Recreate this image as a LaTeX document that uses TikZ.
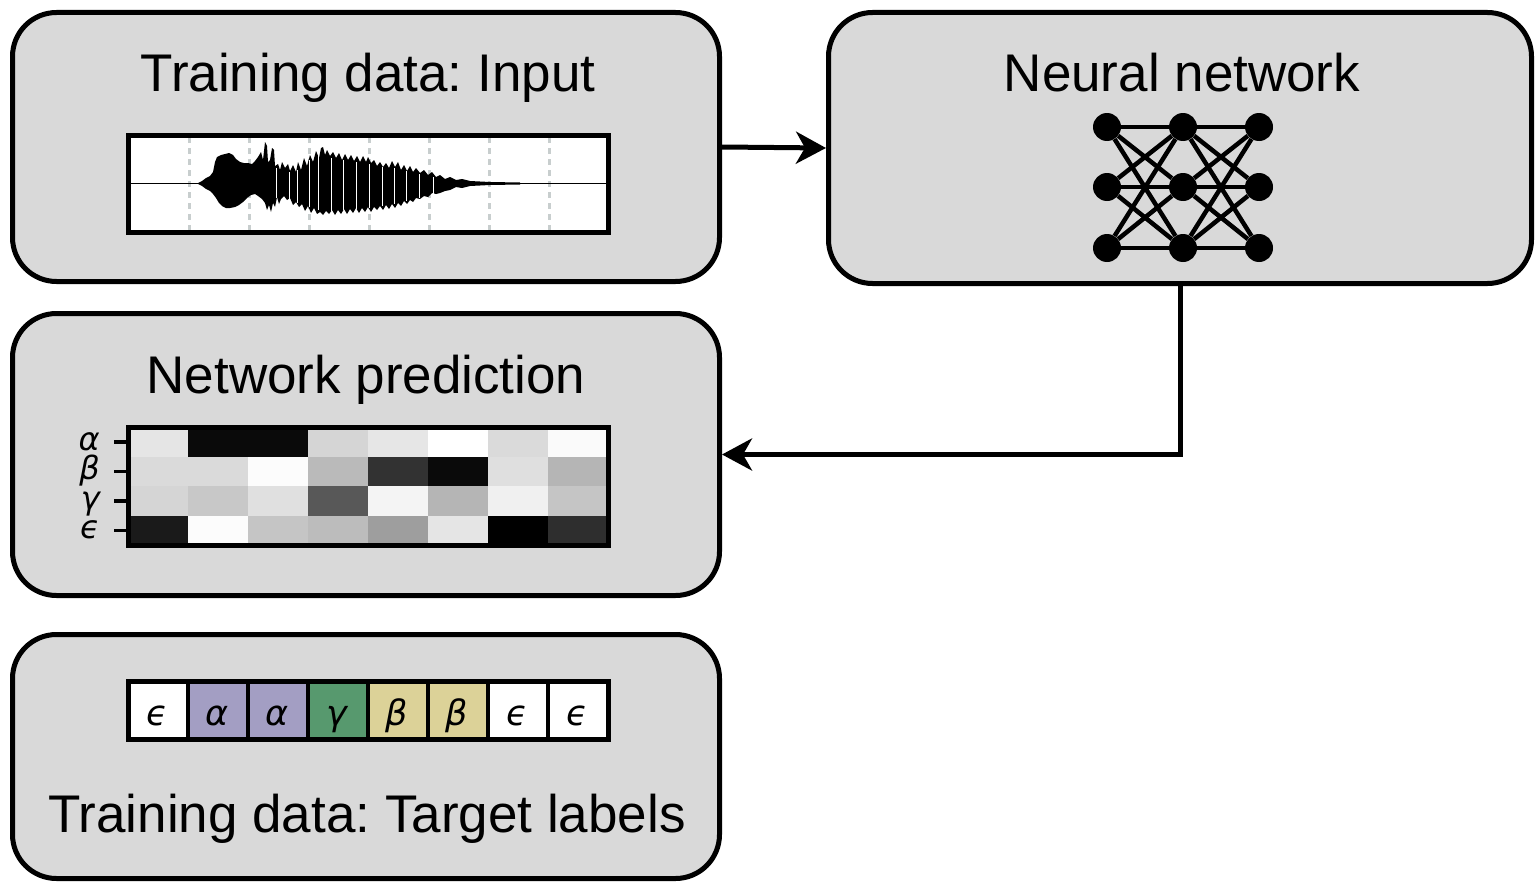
\documentclass[tikz,border=0pt]{standalone}
\usepackage{fontspec}
\setmainfont{Liberation Sans}
\newfontfamily\greekfont{DejaVu Sans}
\usetikzlibrary{arrows.meta}
\frenchspacing
\definecolor{panelgray}{RGB}{217,217,217}
\definecolor{gridgray}{RGB}{200,206,206}
\definecolor{labpurple}{RGB}{163,158,195}
\definecolor{labgreen}{RGB}{87,153,110}
\definecolor{labbeige}{RGB}{220,210,152}

\begin{document}
\begin{tikzpicture}[x=1pt,y=-1pt,
  panel/.style={draw, line width=5pt, fill=panelgray, rounded corners=44pt, rectangle, inner sep=0pt},
  title/.style={anchor=base, inner sep=0pt, font=\fontsize{53}{60}\selectfont},
  frame/.style={draw, line width=5pt, rectangle, inner sep=0pt},
  flow/.style={line width=5pt, -{Stealth[length=30pt,width=32pt,inset=9pt]}},
  neuron/.style={circle, fill=black, minimum size=28pt, inner sep=0pt},
  synapse/.style={line width=4.5pt},
  greek/.style={inner sep=0pt, font=\greekfont\itshape\fontsize{35}{35}\selectfont},
  ticklabel/.style={inner sep=0pt, text height=15pt, text depth=3pt,
                    font=\greekfont\itshape\fontsize{32}{32}\selectfont},
  gridline/.style={gridgray, line width=3pt, dash pattern=on 6pt off 5pt},
]
\useasboundingbox (0,0) rectangle (1537,883);

% ---- panels ----
\node[panel, minimum width=707pt, minimum height=269pt] (input) at (366,147) {};
\node[panel, minimum width=703pt, minimum height=271pt] (network) at (1180,148) {};
\node[panel, minimum width=707pt, minimum height=282pt] (prediction) at (366,454.5) {};
\node[panel, minimum width=707pt, minimum height=244pt] (target) at (366,756.5) {};

\node[title] (tin) at (368,92) {Training data: Input};
\node[title] (tnet) at (1182,92) {Neural network};
\node[title] (tpred) at (366,393) {Network prediction};
\node[title] (ttar) at (367,832) {Training data: Target labels};

% ---- connectors ----
\draw[flow] (input.east) -- (network.west);
\draw[flow] (network.south) |- (prediction.east);

% ---- waveform ----
\fill[white] (128,135) rectangle (608,232);
\foreach \gx in {189,249,309,369,429,489,549}
  \draw[gridline] (\gx,137) -- (\gx,230);
\draw[line width=1.5pt] (130,183.5) -- (606,183.5);
\fill[black]
  (198,183) -- (202,181) -- (206,178) -- (210,176) -- (213,172) -- (215,162) -- (217,157)
  -- (221,155) -- (225,154) -- (229,153) -- (233,155) -- (236,159) -- (240,162) -- (244,163)
  -- (248,163) -- (252,164) -- (255,161) -- (258,157) -- (261,152) -- (263,160) -- (265,142)
  -- (267,146) -- (268,162) -- (270,160) -- (272,148) -- (274,150) -- (275,166) -- (278,164)
  -- (280,170) -- (282,162) -- (285,168) -- (288,164) -- (290,171) -- (293,165) -- (296,172)
  -- (298,162) -- (301,170) -- (304,158) -- (307,166) -- (310,155) -- (313,162) -- (316,151)
  -- (319,158) -- (321,148) -- (323,147) -- (325,155) -- (327,150) -- (330,156) -- (333,152)
  -- (336,158) -- (339,153) -- (342,160) -- (345,154) -- (348,160) -- (351,155) -- (354,161)
  -- (357,156) -- (360,162) -- (363,156) -- (366,162) -- (368,157) -- (371,163) -- (374,160)
  -- (377,166) -- (380,162) -- (383,167) -- (386,163) -- (389,168) -- (392,161) -- (395,167)
  -- (398,162) -- (401,170) -- (404,165) -- (407,171) -- (410,166) -- (413,172) -- (416,168)
  -- (420,173) -- (424,170) -- (428,175) -- (432,172) -- (436,177) -- (440,175) -- (445,179)
  -- (450,177) -- (456,180) -- (462,179) -- (470,181) -- (490,182) -- (520,182.5)
  -- (520,184.5) -- (490,185) -- (470,186) -- (462,188) -- (456,187) -- (450,190) -- (445,191)
  -- (440,193) -- (436,194) -- (432,193) -- (428,197) -- (424,196) -- (420,199) -- (416,198)
  -- (413,202) -- (410,200) -- (407,204) -- (404,201) -- (401,206) -- (398,203) -- (395,208)
  -- (392,204) -- (389,209) -- (386,205) -- (383,210) -- (380,206) -- (377,210) -- (374,207)
  -- (371,212) -- (368,207) -- (365,212) -- (362,208) -- (359,213) -- (356,208) -- (353,213)
  -- (350,209) -- (347,214) -- (344,209) -- (341,214) -- (338,210) -- (335,215) -- (332,210)
  -- (329,214) -- (326,211) -- (323,215) -- (320,212) -- (317,214) -- (314,208) -- (311,213)
  -- (308,206) -- (305,211) -- (302,204) -- (299,207) -- (296,202) -- (293,205) -- (290,198)
  -- (287,200) -- (284,196) -- (281,199) -- (279,204) -- (277,197) -- (275,207) -- (273,203)
  -- (271,212) -- (269,205) -- (267,210) -- (265,203) -- (262,199) -- (258,196) -- (255,194)
  -- (251,195) -- (247,198) -- (243,202) -- (239,205) -- (235,207) -- (230,208) -- (226,208)
  -- (222,206) -- (219,203) -- (216,198) -- (213,194) -- (210,191) -- (206,189) -- (202,186)
  -- (198,184) -- cycle;
% thin gaps between the individual oscillation bursts
\foreach \sx/\sa/\sb in {276/168/198, 289/172/199, 297/170/203, 309/160/207, 318/155/210,
                         331/158/211, 343/160/210, 356/162/209, 369/164/208, 382/167/206,
                         394/168/204, 406/171/201, 419/174/198, 433/177/194}
  \draw[white, line width=0.8pt] (\sx,\sa) -- (\sx,\sb);
\node[frame, minimum width=480pt, minimum height=97pt] (wave) at (368,183.5) {};

% ---- prediction heat map ----
\foreach \row/\vals in {0/{229,10,10,213,230,255,218,250},
                        1/{218,218,252,186,50,10,223,181},
                        2/{213,200,224,88,244,181,240,197},
                        3/{26,252,197,188,158,229,0,46}}{
  \foreach \v [count=\c from 0] in \vals {
    \fill[fill={rgb,255:red,\v;green,\v;blue,\v}]
      (128+60*\c,427+29.5*\row) rectangle (188+60*\c,456.5+29.5*\row);
  }
}
\node[frame, minimum width=480pt, minimum height=118pt] (heat) at (368,486) {};
\foreach \row/\sym in {0/α,1/β,2/γ,3/ϵ}{
  \draw[line width=3.5pt] (114,441.75+29.5*\row) -- (127,441.75+29.5*\row);
  \node[ticklabel, anchor=base east] at (100,450+29.5*\row) {\sym};
}

% ---- target labels ----
\foreach \col/\fc/\sym in {0/white/ϵ,1/labpurple/α,2/labpurple/α,3/labgreen/γ,
                           4/labbeige/β,5/labbeige/β,6/white/ϵ,7/white/ϵ}{
  \fill[\fc] (128+60*\col,681) rectangle (188+60*\col,739);
  \node[greek, anchor=base] at (157+60*\col,725) {\sym};
}
\foreach \col in {1,...,7}
  \draw[line width=4.5pt] (128+60*\col,681) -- (128+60*\col,739);
\node[frame, minimum width=480pt, minimum height=58pt] (labels) at (368,710) {};

% ---- neural network icon ----
\foreach \i/\x in {1/1107,2/1183,3/1259}
  \foreach \j/\y in {1/127,2/187,3/248}
    \node[neuron] (n\i\j) at (\x,\y) {};
\foreach \a in {1,2,3}
  \foreach \b in {1,2,3}{
    \draw[synapse] (n1\a) -- (n2\b);
    \draw[synapse] (n2\a) -- (n3\b);
  }
\end{tikzpicture}
\end{document}
